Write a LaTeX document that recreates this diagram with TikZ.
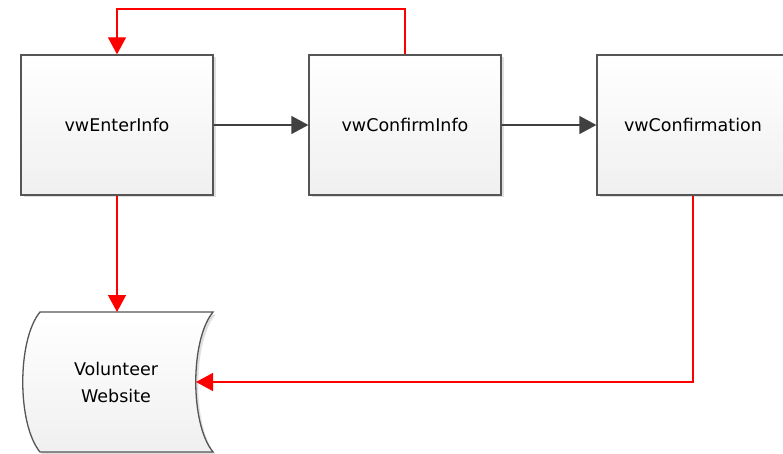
\documentclass[tikz,border=0pt]{standalone}
\usepackage{fontspec}
\setmainfont{DejaVu Sans}
\usetikzlibrary{arrows.meta,shadows}
\definecolor{edgegray}{HTML}{555555}
\definecolor{arrgray}{HTML}{404040}
\definecolor{redline}{HTML}{FF0000}
\begin{document}
\begin{tikzpicture}[x=1pt,y=-1pt,
  box/.style={draw=edgegray, line width=1.3pt, top color=white, bottom color=gray!12,
    minimum width=192pt, minimum height=140pt, inner sep=0pt,
    font=\fontsize{17.5}{20}\selectfont,
    drop shadow={shadow xshift=2.5pt, shadow yshift=-2.5pt, opacity=0.25}},
  lbl/.style={font=\fontsize{17.5}{27}\selectfont, align=center, inner sep=0pt},
  flow/.style={draw=arrgray, line width=1.3pt, -{Triangle[length=17pt,width=18pt]}},
  back/.style={draw=redline, line width=1.3pt, -{Triangle[length=17pt,width=18pt]}}]
\clip (0,0) rectangle (783,454);
\fill[white] (0,0) rectangle (783,454);
% storage shape
\path[draw=edgegray, line width=1.3pt, top color=white, bottom color=gray!12,
  drop shadow={shadow xshift=2.5pt, shadow yshift=-2.5pt, opacity=0.25}]
  (40,312) -- (213,312) .. controls (190,340) and (190,424) .. (213,452)
  -- (40,452) .. controls (17,424) and (17,340) .. (40,312) -- cycle;
\node[lbl] (ws) at (116,382) {Volunteer\\Website};
\coordinate (wsTop) at (117,312);
\coordinate (wsRight) at (196,382);
% boxes
\node[box] (b1) at (117,125) {vwEnterInfo};
\node[box] (b2) at (405,125) {vwConfirmInfo};
\node[box] (b3) at (693,125) {vwConfirmation};
\coordinate (loopTop) at (117,9);
% connectors
\draw[flow] (b1.east) -- (b2.west);
\draw[flow] (b2.east) -- (b3.west);
\draw[back] (b2.north) |- (loopTop) -- (b1.north);
\draw[back] (b1.south) -- (wsTop);
\draw[back] (b3.south) |- (wsRight);
\end{tikzpicture}
\end{document}
